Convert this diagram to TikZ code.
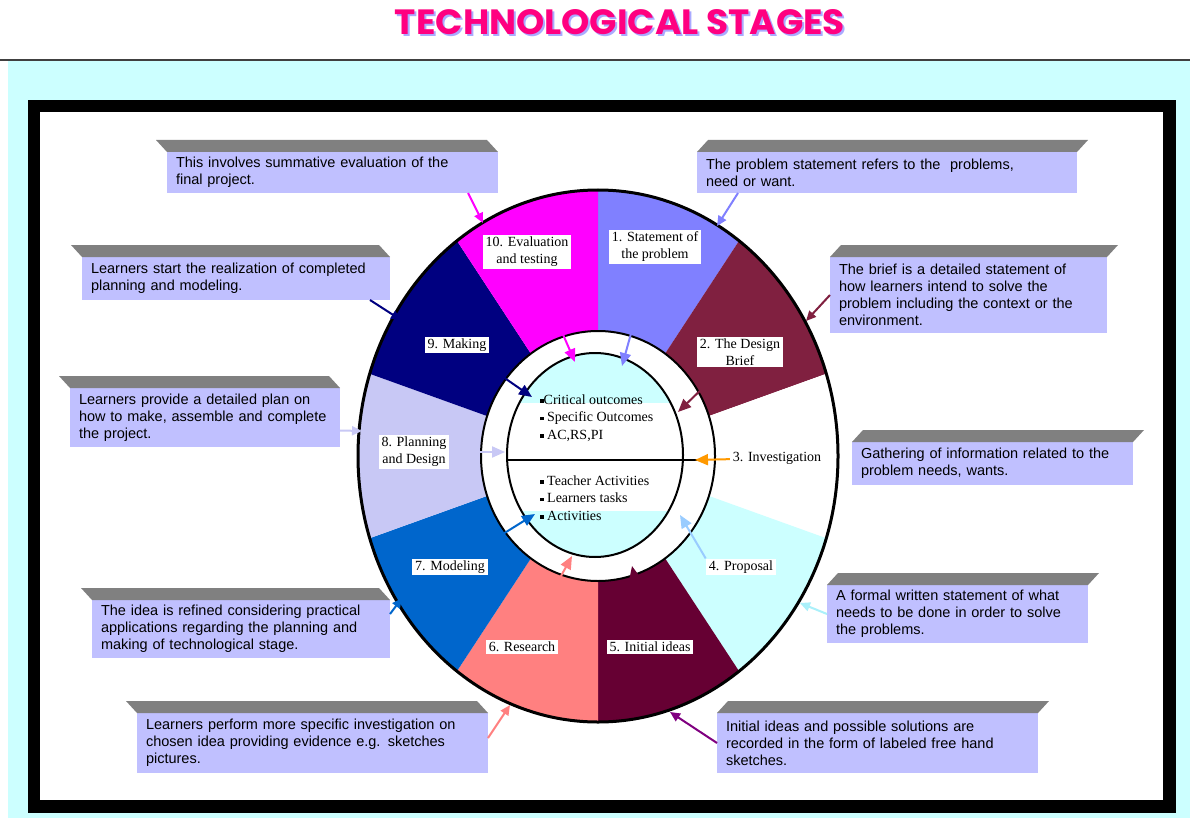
\documentclass[tikz,border=0pt]{standalone}
\usepackage{graphicx}
\usepackage{fontspec}
\setmainfont{Liberation Serif}
\newfontfamily\calloutfont{Liberation Sans}
\newfontfamily\titlefont{Poppins}
\usetikzlibrary{arrows.meta}
\pgfdeclarelayer{bg}
\pgfdeclarelayer{mid}
\pgfsetlayers{bg,mid,main}
\definecolor{bgcyan}{RGB}{204,255,255}
\definecolor{callfill}{RGB}{192,192,255}
\definecolor{bevelgray}{RGB}{128,128,128}
\definecolor{titlepink}{RGB}{255,0,128}
\definecolor{titleshadow}{RGB}{170,170,255}
\definecolor{sone}{RGB}{128,128,255}
\definecolor{stwo}{RGB}{128,32,64}
\definecolor{sthree}{RGB}{255,255,255}
\definecolor{sfour}{RGB}{204,255,255}
\definecolor{sfive}{RGB}{102,0,51}
\definecolor{ssix}{RGB}{255,128,128}
\definecolor{sseven}{RGB}{0,102,204}
\definecolor{seight}{RGB}{200,200,245}
\definecolor{snine}{RGB}{0,0,128}
\definecolor{sten}{RGB}{255,0,255}
\definecolor{aorange}{RGB}{255,153,0}
\definecolor{alightblue}{RGB}{153,204,255}
\definecolor{apalecyan}{RGB}{170,240,250}
\definecolor{apurple}{RGB}{128,0,128}
\newcommand\bevelface[2]{\fill[bevelgray] (#1.north west) -- ([shift={(#2,-12)}]#1.north west) -- ([shift={(#2,-12)}]#1.north east) -- (#1.north east) -- cycle;}
\newcommand\sqb{\rule[0.25ex]{3.5pt}{3.5pt}}
\begin{document}
\begin{tikzpicture}[x=1pt,y=-1pt,
  callout/.style={fill=callfill, anchor=north west, align=left, inner xsep=9pt, inner ysep=3pt, outer sep=0pt,
    font=\calloutfont\fontsize{14.5}{17}\selectfont},
  seglabel/.style={fill=white, align=center, inner xsep=3pt, inner ysep=2pt, font=\fontsize{14}{17}\selectfont},
  innertext/.style={align=left, anchor=west, inner sep=1pt, font=\fontsize{14}{17.5}\selectfont},
  arr/.style={line width=2pt, -{Triangle[length=13pt,width=11pt]}},
  sarr/.style={line width=2pt, -{Triangle[length=10pt,width=9pt]}},
]
\useasboundingbox (0,0) rectangle (1190,818);
\begin{pgfonlayer}{bg}
\fill[white] (0,0) rectangle (1190,818);
\fill[bgcyan] (8,61) rectangle (1190,818);
\draw[line width=1.5pt, black!75] (0,60) -- (1190,60);
% frame
\fill[black] (28,100) rectangle (1176,813);
\fill[white] (40,112) rectangle (1163,800);
% wheel
\coordinate (c) at (598,456);
\coordinate (ci) at (595,455);
\begin{scope}[shift={(c)}]
\foreach \k/\col in {1/sone,2/stwo,3/sthree,4/sfour,5/sfive,6/ssix,7/sseven,8/seight,9/snine,10/sten}{
  \pgfmathsetmacro\ta{36*\k-126}
  \pgfmathsetmacro\tb{36*\k-90}
  \fill[\col] (0,0) -- plot[domain=\ta:\tb, samples=30, variable=\t] ({240*cos(\t)},{266*sin(\t)}) -- cycle;
}
\end{scope}
\draw[line width=3pt] (c) ellipse [x radius=240, y radius=266];
\draw[fill=white, line width=2pt] (c) ellipse [x radius=117, y radius=125];
\begin{scope}
\clip (ci) ellipse [x radius=88, y radius=102];
\fill[bgcyan] (400,300) rectangle (800,600);
\fill[white] (400,403) rectangle (800,511);
\end{scope}
\draw[line width=2pt] (ci) ellipse [x radius=88, y radius=102];
\draw[line width=1.5pt] (507,460) -- (697,460);
\end{pgfonlayer}
% title
\node[text=titleshadow, inner sep=0pt] (titleshadow) at (622,24) {\resizebox{450pt}{25pt}{\titlefont\bfseries TECHNOLOGICAL STAGES}};
\node[text=titlepink, inner sep=0pt] (title) at (620,22) {\resizebox{450pt}{25pt}{\titlefont\bfseries TECHNOLOGICAL STAGES}};
\node[innertext] (outcomes) at (539,418) {\sqb Critical outcomes\\\sqb\ Specific Outcomes\\\sqb\ AC,RS,PI};
\node[innertext] (activities) at (539,498) {\sqb\ Teacher Activities\\\sqb\ Learners tasks\\\sqb\ Activities};
% callouts
\node[callout, text width=313pt, minimum height=41pt] (cA) at (167,152) {\mbox{This involves summative evaluation of the}\\\mbox{final project.}};
\node[callout, text width=362pt, minimum height=41pt] (cB) at (697,152) {\mbox{The problem statement refers to the \ problems,}\\\mbox{need or want.}};
\node[callout, text width=290pt, minimum height=43pt] (cC) at (82,257) {\mbox{Learners start the realization of completed}\\\mbox{planning and modeling.}};
\node[callout, text width=259pt, minimum height=76pt] (cD) at (830,257) {\mbox{The brief is a detailed statement of}\\\mbox{how learners intend to solve the}\\\mbox{problem including the context or the}\\\mbox{environment.}};
\node[callout, text width=252pt, minimum height=59pt] (cE) at (70,388) {\mbox{Learners provide a detailed plan on}\\\mbox{how to make, assemble and complete}\\\mbox{the project.}};
\node[callout, text width=263pt, minimum height=43pt] (cF) at (852,442) {\mbox{Gathering of information related to the}\\\mbox{problem needs, wants.}};
\node[callout, text width=280pt, minimum height=58pt] (cG) at (92,600) {\mbox{The idea is refined considering practical}\\\mbox{applications regarding the planning and}\\\mbox{making of technological stage.}};
\node[callout, text width=243pt, minimum height=58pt] (cH) at (827,585) {\mbox{A formal written statement of what}\\\mbox{needs to be done in order to solve}\\\mbox{the problems.}};
\node[callout, text width=333pt, minimum height=60pt] (cI) at (137,713) {\mbox{Learners perform more specific investigation on}\\\mbox{chosen idea providing evidence e.g. sketches}\\\mbox{pictures.}};
\node[callout, text width=303pt, minimum height=60pt] (cJ) at (717,713) {\mbox{Initial ideas and possible solutions are}\\\mbox{recorded in the form of labeled free hand}\\\mbox{sketches.}};
\bevelface{cA}{-11}
\bevelface{cB}{11}
\bevelface{cC}{-11}
\bevelface{cD}{11}
\bevelface{cE}{-11}
\bevelface{cF}{11}
\bevelface{cG}{-11}
\bevelface{cH}{11}
\bevelface{cI}{-11}
\bevelface{cJ}{11}
% segment labels
\node[seglabel] (l1) at (655,247) {1. Statement of\\the problem};
\node[seglabel] (l2) at (740,352) {2. The Design\\Brief};
\node[seglabel] (l3) at (777,458) {3. Investigation};
\node[seglabel] (l4) at (741,567) {4. Proposal};
\node[seglabel] (l5) at (650,647) {5. Initial ideas};
\node[seglabel] (l6) at (522,647) {6. Research};
\node[seglabel] (l7) at (450,567) {7. Modeling};
\node[seglabel] (l8) at (414,452) {8. Planning\\and Design};
\node[seglabel] (l9) at (457,345) {9. Making};
\node[seglabel] (l10) at (527,252) {10. Evaluation\\and testing};
% arrow ends at the wheel's outer edge
\coordinate (oA) at (483,223);
\coordinate (oB) at (717,226);
\coordinate (oC) at (401,320);
\coordinate (oD) at (806,321);
\coordinate (oE) at (362,431);
\coordinate (oG) at (402,598);
\coordinate (oH) at (800,603);
\coordinate (oI) at (510,705);
\coordinate (oJ) at (670,712);
% arrow ends at the inner circle
\coordinate (eA) at (575,362);
\coordinate (eB) at (622,366);
\coordinate (eC) at (532,397);
\coordinate (eD) at (678,412);
\coordinate (eE) at (505,452);
\coordinate (eF) at (695,460);
\coordinate (eG) at (535,514);
\coordinate (eH) at (680,515);
\coordinate (eI) at (572,556);
\coordinate (eJ) at (632,566);
% callout to wheel
\draw[sarr, sten] ([xshift=-30pt]cA.south east) -- (oA);
\draw[sarr, sone] ([xshift=41pt]cB.south west) -- (oB);
\draw[sarr, snine] ([xshift=-20pt]cC.south east) -- (oC);
\draw[sarr, stwo] (cD.west) -- (oD);
\draw[sarr, seight] ([yshift=-13pt]cE.east) -- (oE);
\draw[sarr, sseven] ([yshift=-14pt]cG.north east) -- (oG);
\draw[sarr, apalecyan] (cH.west) -- (oH);
\draw[sarr, ssix] ([yshift=-25pt]cI.north east) -- (oI);
\draw[sarr, apurple] (cJ.west) -- (oJ);
% segment to centre (under the labels)
\begin{pgfonlayer}{mid}
\draw[arr, sten] (l10.center) -- (eA);
\draw[arr, sone] (l1.center) -- (eB);
\draw[arr, snine] (l9.center) -- (eC);
\draw[arr, stwo] (l2.center) -- (eD);
\draw[arr, seight] (l8.center) -- (eE);
\draw[arr, aorange] (l3.center) -- (eF);
\draw[arr, sseven] (l7.center) -- (eG);
\draw[arr, alightblue] (l4.north west) -- (eH);
\draw[arr, ssix] (l6.center) -- (eI);
\draw[arr, sfive] (l5.center) -- (eJ);
\end{pgfonlayer}
\end{tikzpicture}
\end{document}
